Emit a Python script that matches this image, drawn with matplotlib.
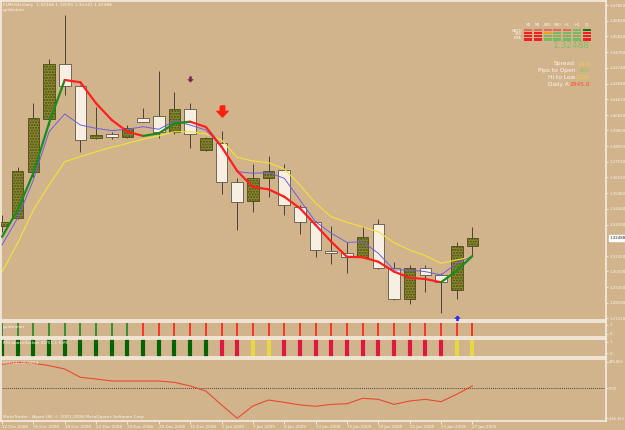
import numpy as np
import matplotlib
matplotlib.use("Agg")
import matplotlib.pyplot as plt
from matplotlib.collections import LineCollection
from matplotlib.path import Path
from matplotlib.patches import Rectangle
import matplotlib.transforms as mtransforms

# ---------------- data ----------------
dates = ["12 Dec 2008", "15 Dec 2008", "16 Dec 2008", "17 Dec 2008", "18 Dec 2008",
         "19 Dec 2008", "22 Dec 2008", "23 Dec 2008", "24 Dec 2008", "26 Dec 2008",
         "29 Dec 2008", "30 Dec 2008", "31 Dec 2008", "2 Jan 2009", "5 Jan 2009",
         "6 Jan 2009", "7 Jan 2009", "8 Jan 2009", "9 Jan 2009", "12 Jan 2009",
         "13 Jan 2009", "14 Jan 2009", "15 Jan 2009", "16 Jan 2009", "19 Jan 2009",
         "20 Jan 2009", "21 Jan 2009", "22 Jan 2009", "23 Jan 2009", "26 Jan 2009",
         "27 Jan 2009"]

opens = [1.3332, 1.3381, 1.3688, 1.4036, 1.4397, 1.4255, 1.3912, 1.3935, 1.3917, 1.4040,
         1.4058, 1.3952, 1.4102, 1.3829, 1.3875, 1.3620, 1.3493, 1.3645, 1.3697, 1.3453,
         1.3354, 1.3167, 1.3150, 1.3124, 1.3341, 1.3051, 1.2850, 1.3055, 1.3005, 1.2906,
         1.3196]
highs = [1.3403, 1.3721, 1.4139, 1.4431, 1.4722, 1.4260, 1.4117, 1.3950, 1.3996, 1.4106,
         1.4354, 1.4212, 1.4139, 1.3917, 1.3957, 1.3649, 1.3739, 1.3792, 1.3739, 1.3468,
         1.3363, 1.3330, 1.3226, 1.3332, 1.3376, 1.3094, 1.3073, 1.3073, 1.3022, 1.3226,
         1.3321]
lows = [1.3290, 1.3373, 1.3655, 1.3996, 1.4194, 1.3820, 1.3907, 1.3907, 1.3910, 1.4016,
        1.3908, 1.3937, 1.3842, 1.3825, 1.3539, 1.3304, 1.3424, 1.3523, 1.3403, 1.3277,
        1.3127, 1.3079, 1.3018, 1.3119, 1.3046, 1.2845, 1.2814, 1.2897, 1.2754, 1.2850,
        1.3139]
closes = [1.3358, 1.3693, 1.4040, 1.4397, 1.4255, 1.3897, 1.3930, 1.3917, 1.3978, 1.4018,
          1.3952, 1.4102, 1.3935, 1.3912, 1.3620, 1.3486, 1.3649, 1.3693, 1.3466, 1.3354,
          1.3172, 1.3150, 1.3124, 1.3257, 1.3051, 1.2848, 1.3051, 1.3005, 1.2963, 1.3198,
          1.32488]

ma_fast = [1.3259, 1.3435, 1.3680, 1.4009, 1.4293, 1.4278, 1.4139, 1.4029, 1.3952, 1.3924,
           1.3941, 1.4007, 1.4018, 1.3983, 1.3853, 1.3693, 1.3587, 1.3572, 1.3523, 1.3447,
           1.3337, 1.3226, 1.3127, 1.3124, 1.3094, 1.3029, 1.2989, 1.2980, 1.2959, 1.3035,
           1.3132]
ma_mid = [1.3205, 1.3383, 1.3633, 1.3952, 1.4069, 1.3996, 1.3974, 1.3959, 1.3968, 1.3985,
          1.3968, 1.4023, 1.3996, 1.3963, 1.3853, 1.3688, 1.3678, 1.3682, 1.3645, 1.3501,
          1.3358, 1.3282, 1.3222, 1.3226, 1.3150, 1.3040, 1.3040, 1.3029, 1.3007, 1.3084,
          1.3132]
ma_slow = [1.3027, 1.3218, 1.3435, 1.3600, 1.3754, 1.3787, 1.3820, 1.3849, 1.3875, 1.3902,
           1.3924, 1.3952, 1.3952, 1.3937, 1.3897, 1.3782, 1.3759, 1.3747, 1.3706, 1.3600,
           1.3480, 1.3391, 1.3354, 1.3325, 1.3292, 1.3220, 1.3172, 1.3134, 1.3084, 1.3106,
           1.3127]

cci = [214, 232, 223, 202, 172, 98, 83, 65, 65, 65, 65, 53, 21, -24, -148, -267, -157,
       -104, -125, -148, -160, -143, -137, -89, -98, -143, -113, -98, -119, -53, 21]

goldminer = ["up", "up", "up", "up", "up", "up", "up", "up", "up", "down", "down", "down",
             "down", "down", "down", "down", "down", "down", "down", "down", "down", "down",
             "down", "down", "down", "down", "down", "down", "down", "down", "down"]
rsi_state = ["above", "above", "above", "above", "above", "above", "above", "above", "above",
             "above", "above", "above", "above", "above", "below", "below", "neutral",
             "neutral", "below", "below", "below", "below", "below", "below", "below",
             "below", "below", "below", "below", "neutral", "neutral"]

small_arrow_bar, small_arrow_price = 12, 1.4299
sell_arrow_bar, sell_arrow_price = 14, 1.4089
buy_arrow_bar, buy_arrow_price = 29, 1.2723

price_ticks = [1.47850, 1.46830, 1.45810, 1.44760, 1.43740, 1.42690, 1.41670, 1.40620,
               1.39600, 1.38550, 1.37530, 1.36510, 1.35460, 1.34440, 1.33390, 1.31320,
               1.30300, 1.29250, 1.28230, 1.27210]
last_price = 1.32488
cci_ticks = [238.053, 0.0, -266.353]
cci_tick_labels = ["238.053", "0.00", "-266.353"]

tf_labels = ["M1", "M5", "M15", "M30", "H1", "H4", "D1"]
row_labels = ["MACD", "STR", "EMA"]
RD, SA, OR, GR, DG = "#f02020", "#e86858", "#f0a020", "#7ab862", "#157515"
signal_cells = [[SA, RD, RD, RD], [SA, RD, RD, RD], [SA, OR, GR, GR], [SA, GR, GR, GR],
                [SA, GR, GR, GR], [GR, GR, GR, GR], [DG, RD, RD, RD]]
info_labels = ["Spread", "Pips to Open", "Hi to Low", "Daily A"]
info_values = ["14.0", "400", "1250", "2945.0"]
info_colors = ["#ecd040", "#8cc850", "#ecd040", "#ff4a20"]

# ---------------- style ----------------
BG = "#d2b48c"
FRAME = "#f6eee2"
TXT = "#fbf6ee"
W, H = 625, 430

fig = plt.figure(figsize=(6.25, 4.3), dpi=100)
fig.patch.set_facecolor(BG)


def px_box(x0, y0, x1, y1):
    return [x0 / W, 1 - y1 / H, (x1 - x0) / W, (y1 - y0) / H]


XL = (-0.064, 38.52)
ax = fig.add_axes(px_box(1, 1, 606, 320))
gax = fig.add_axes(px_box(1, 322, 606, 337))
rax = fig.add_axes(px_box(1, 338.5, 606, 357))
cax = fig.add_axes(px_box(1, 359, 606, 421))

for a in (ax, gax, rax, cax):
    a.set_facecolor(BG)
    a.set_xlim(*XL)
    for s in a.spines.values():
        s.set_color(FRAME)
        s.set_linewidth(1.2)
    a.yaxis.tick_right()
    a.tick_params(axis="y", colors=FRAME, labelcolor=TXT, labelsize=2.8, length=1.6,
                  width=0.6, pad=0.8, direction="out")
    a.tick_params(axis="x", bottom=False, labelbottom=False)

x = np.arange(len(dates))
o = np.array(opens); h = np.array(highs); l = np.array(lows); c = np.array(closes)
up = c >= o

# main chart
ax.set_ylim(1.2710, 1.4814)
ax.set_yticks(price_ticks)
ax.set_yticklabels([f"{v:.5f}" for v in price_ticks])
ax.vlines(x, l, h, color="#4a4238", lw=0.7, zorder=2)
ax.bar(x[up], (c - o)[up], bottom=o[up], width=0.74, color="#8a8a2c",
       edgecolor="#4d4d1c", lw=0.6, hatch="......", zorder=3)
ax.bar(x[~up], (o - c)[~up], bottom=c[~up], width=0.74, color="#f6efe2",
       edgecolor="#5e554a", lw=0.6, zorder=3)
ax.plot(x, ma_slow, color="#f2e23a", lw=0.8, zorder=4)
ax.plot(x, ma_mid, color="#6e5fe0", lw=0.7, zorder=4)
pts = np.column_stack([x, ma_fast])
segs = np.stack([pts[:-1], pts[1:]], axis=1)
seg_colors = ["#1a8c1a" if b > a else "#ff2020" for a, b in zip(ma_fast[:-1], ma_fast[1:])]
ax.add_collection(LineCollection(segs, colors=seg_colors, linewidths=1.6, zorder=5,
                                 capstyle="round", joinstyle="round"))

down_arrow = Path([(-0.2, 0.5), (0.2, 0.5), (0.2, 0.02), (0.5, 0.02), (0.0, -0.5),
                   (-0.5, 0.02), (-0.2, 0.02), (-0.2, 0.5)])
up_arrow = Path([(-0.2, -0.5), (0.2, -0.5), (0.2, -0.02), (0.5, -0.02), (0.0, 0.5),
                 (-0.5, -0.02), (-0.2, -0.02), (-0.2, -0.5)])
ax.plot([sell_arrow_bar], [sell_arrow_price], marker=down_arrow, ms=8, color="#ff2010",
        mec="#ff2010", zorder=6)
ax.plot([small_arrow_bar], [small_arrow_price], marker=down_arrow, ms=4, color="#7a1f5e",
        mec="#7a1f5e", mew=0.3, zorder=6)
ax.plot([buy_arrow_bar], [buy_arrow_price], marker=up_arrow, ms=4, color="#2828e8",
        mec="#2828e8", mew=0.3, zorder=6, clip_on=False)

blend = mtransforms.blended_transform_factory(ax.transAxes, ax.transData)
ax.text(1.006, last_price, f"{last_price:.5f}", transform=blend, ha="left", va="center",
        fontsize=2.8, color="#202020",
        bbox=dict(boxstyle="square,pad=0.25", fc="white", ec="white"), zorder=7)

# goldminer panel
gax.set_ylim(-0.41, 1.35)
gax.set_yticks([1, 0]); gax.set_yticklabels(["1", "0"])
gcol = {"up": "#2a8a2a", "down": "#ff2a1a"}
gax.vlines(x, -0.29, 1.2, colors=[gcol[s] for s in goldminer], lw=1.3)

# RSI panel
rax.set_ylim(-0.35, 1.28)
rax.set_yticks([1, 0]); rax.set_yticklabels(["1", "0"])
rcol = {"above": "#006400", "below": "#dc1a40", "neutral": "#e8d840"}
rax.vlines(x, -0.35, 1.28, colors=[rcol[s] for s in rsi_state], lw=3.0)

# CCI panel
cax.set_ylim(-291, 261)
cax.set_yticks(cci_ticks); cax.set_yticklabels(cci_tick_labels)
cax.tick_params(axis="y", labelsize=2.5, pad=0.6)
cax.axhline(0, color="#1a1a1a", lw=0.6, ls=(0, (1, 1.5)))
cax.plot(x, cci, color="#e84a30", lw=0.8)
cax.set_xticks(x[::2])
cax.set_xticklabels(dates[::2])
cax.tick_params(axis="x", bottom=True, labelbottom=True, colors=FRAME, labelcolor=TXT,
                labelsize=3.0, length=2, width=0.6, pad=1.0)
for t in cax.get_xticklabels():
    t.set_ha("left")

# overlay (pixel coordinates) for panel texts and info box
ov = fig.add_axes([0, 0, 1, 1])
ov.set_xlim(0, W); ov.set_ylim(H, 0); ov.axis("off"); ov.patch.set_visible(False)

ov.text(3, 5, "EURUSD,Daily  1.32368 1.32591 1.31341 1.32488", fontsize=3.2,
        color=TXT, va="center")
ov.text(3, 10.5, "goldminer", fontsize=3.2, color=TXT, va="center")
ov.text(3, 327, "goldminer", fontsize=3.2, color=TXT, va="center")
ov.text(3, 343.5, "RSI above/below 45/55 L:0(M)", fontsize=3.2, color=TXT, va="center")
ov.text(3, 362.5, "CCI(14) 16.0453", fontsize=3.2, color=TXT, va="center")
ov.text(3, 417, "MetaTrader - Alpari UK, \u00a9 2001-2008 MetaQuotes Software Corp.",
        fontsize=3.2, color=TXT, va="center")

for ci, lab in enumerate(tf_labels):
    cx = 528 + 9.8 * ci
    ov.text(cx, 25, lab, fontsize=2.6, color=TXT, ha="center", va="center")
    for ri, col in enumerate(signal_cells[ci]):
        ov.add_patch(Rectangle((cx - 4, 29 + 3.1 * ri), 8, 2.2, color=col, lw=0))
for ri, lab in enumerate(row_labels):
    ov.text(522, 30.5 + 3.9 * ri, lab, fontsize=2.6, color=TXT, ha="right", va="center")
ov.text(590, 46, f"{last_price:.5f}", fontsize=6.5, color="#7cc068", ha="right",
        va="center")
for i, (lab, val, col) in enumerate(zip(info_labels, info_values, info_colors)):
    yy = 64 + 6.8 * i
    ov.text(575 if i < 3 else 569, yy, lab, fontsize=4.2, color=TXT, ha="right",
            va="center")
    ov.text(590, yy, val, fontsize=4.2, color=col, ha="right", va="center")

fig.savefig("out.png", dpi=100, facecolor=BG)
